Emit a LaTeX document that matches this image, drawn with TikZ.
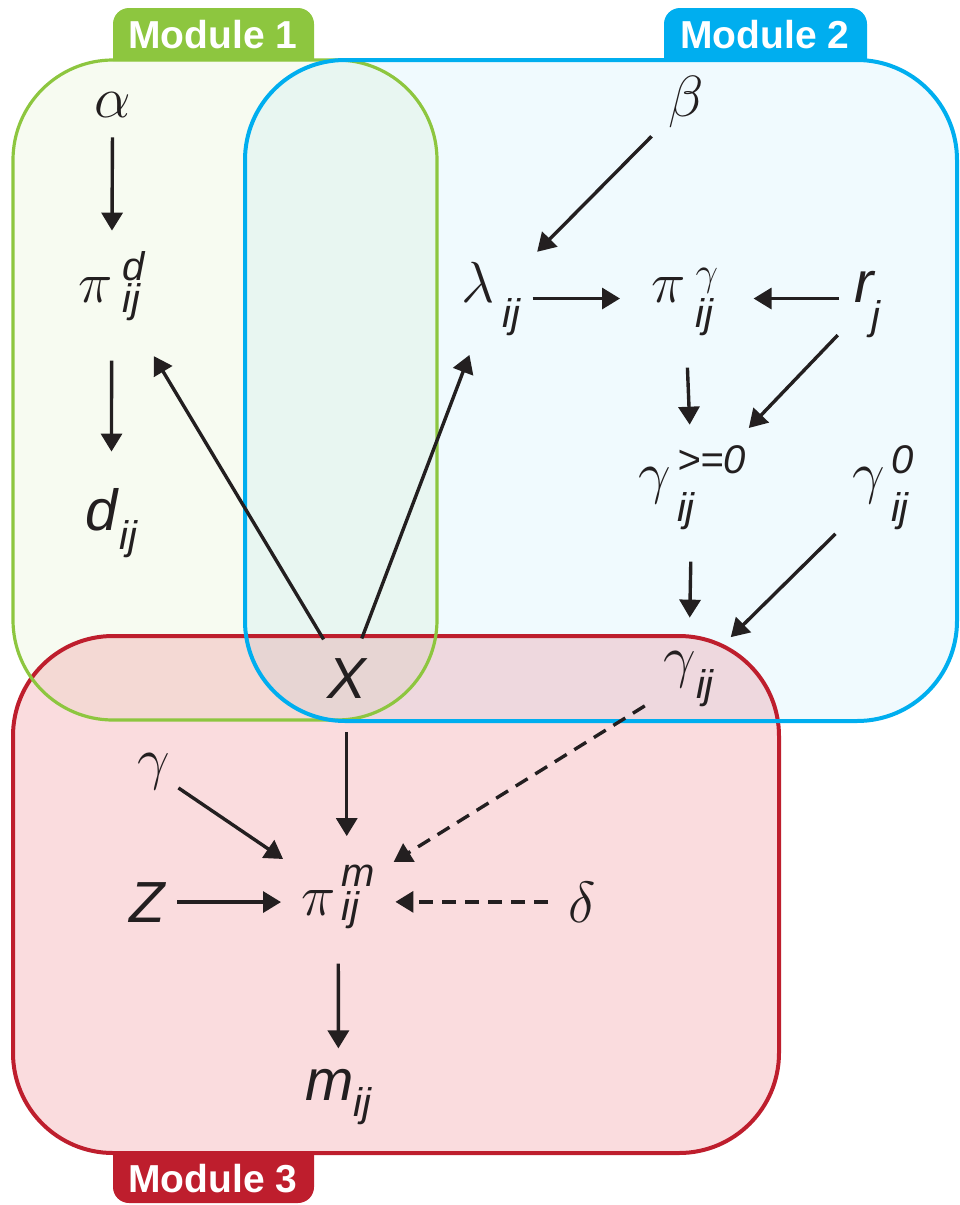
\RequirePackage{fix-cm}
\documentclass[tikz,border=0pt]{standalone}
\usepackage{amsmath}
\usepackage{fontspec}
\usetikzlibrary{arrows.meta}
\newfontfamily\lsans{Liberation Sans}
\newcommand{\vn}[1]{{\lsans\itshape #1}}
% sup/sub pair: #1 raise, #2 sup, #3 drop, #4 sub
\newcommand{\supsub}[4]{\begingroup\fontsize{20}{20}\selectfont\lsans\itshape
  \setbox0\hbox{\raisebox{#1}{#2}}\setbox2\hbox{\raisebox{-#3}{#4}}%
  \ifdim\wd0>\wd2 \rlap{\box2}\box0 \else\rlap{\box0}\box2 \fi\endgroup}
\definecolor{modgreen}{HTML}{8DC63F}
\definecolor{modblue}{HTML}{00AEEF}
\definecolor{modred}{HTML}{BE1E2D}
\definecolor{redtint}{rgb}{0.9,0.32,0.36}
\definecolor{ink}{HTML}{231F20}
\begin{document}
\begin{tikzpicture}[x=0.5pt, y=-0.5pt, >={Triangle[length=9pt,width=10.5pt]},
  var/.style={font=\fontsize{29}{34}\selectfont, text=ink, inner sep=4pt, anchor=base west},
  link/.style={->, line width=1.7pt, draw=ink, shorten <=6pt, shorten >=6pt},
  weak/.style={link, dash pattern=on 7pt off 4.5pt},
  tab/.style={text=white, font=\lsans\bfseries\fontsize{19.5}{23}\selectfont}]
\useasboundingbox (0,0) rectangle (959,1205);
% module frames
\fill[modgreen, fill opacity=0.07, rounded corners=50pt] (13,60) rectangle (437,720);
\fill[modblue, fill opacity=0.06, rounded corners=50pt] (245,60) rectangle (957,721);
\fill[redtint, fill opacity=0.2, rounded corners=50pt] (13,636) rectangle (779,1153);
\draw[modred, line width=2pt, rounded corners=50pt] (13,636) rectangle (779,1153);
\draw[modgreen, line width=1.6pt, rounded corners=50pt] (13,60) rectangle (437,720);
\draw[modblue, line width=2pt, rounded corners=50pt] (245,60) rectangle (957,721);
% tabs
\fill[modgreen] (113,61) -- (113,24) arc[start angle=180, end angle=90, radius=8pt] -- (298,8) arc[start angle=90, end angle=0, radius=8pt] -- (314,61) -- cycle;
\fill[modblue] (664,61) -- (664,24) arc[start angle=180, end angle=90, radius=8pt] -- (851,8) arc[start angle=90, end angle=0, radius=8pt] -- (867,61) -- cycle;
\fill[modred] (113,1152) -- (113,1187) arc[start angle=180, end angle=270, radius=8pt] -- (298,1203) arc[start angle=270, end angle=360, radius=8pt] -- (314,1152) -- cycle;
\node[tab] (m1) at (213,35) {Module 1};
\node[tab] (m2) at (765,35) {Module 2};
\node[tab] (m3) at (213,1179) {Module 3};
% module 1
\node[var] (alpha) at (86,117) {$\alpha$};
\node[var] (pid) at (70,302) {$\pi$\hspace{5pt}\supsub{11pt}{d}{5pt}{ij}};
\node[var] (dij) at (77,530) {\vn{d}\hspace{1pt}\supsub{0pt}{}{9.5pt}{ij}};
% module 2
\node[var] (beta) at (660,116) {$\beta$};
\node[var] (lam) at (453,302) {$\lambda$\hspace{4pt}\supsub{0pt}{}{12.5pt}{ij}};
\node[var] (pig) at (643,302) {$\pi$\hspace{5pt}\supsub{8.5pt}{$\gamma$}{12.5pt}{ij}};
\node[var] (rj) at (846,302) {\vn{r}\hspace{-1pt}\supsub{0pt}{}{13.5pt}{j}};
\node[var] (gpos) at (630,492) {$\gamma$\hspace{3pt}\supsub{9.5pt}{>=0}{14.5pt}{ij}};
\node[var] (gzero) at (844,492) {$\gamma$\hspace{3pt}\supsub{9.5pt}{0}{14.5pt}{ij}};
\node[var] (gij) at (655,676) {$\gamma$\supsub{0pt}{}{11pt}{ij}};
% shared
\node[var] (X) at (319,698) {\vn{X}};
% module 3
\node[var] (gam) at (129,778) {$\gamma$};
\node[var] (Z) at (121,922) {\vn{Z}};
\node[var] (pim) at (293,915) {$\pi$\hspace{3pt}\supsub{14.5pt}{m}{2.5pt}{ij}};
\node[var] (delta) at (560,922) {$\delta$};
\node[var] (mij) at (297,1100) {\vn{m}\supsub{0pt}{}{8pt}{ij}};
% links
\draw[link] (alpha) -- (pid);
\draw[link, shorten <=16pt, shorten >=14pt] (pid) -- (dij);
\draw[link, shorten >=16pt] (X) -- (pid);
\draw[link] (X) -- (lam);
\draw[link] (beta) -- (lam);
\draw[link, shorten <=2pt, shorten >=11.5pt] (lam.east) -- (lam.east -| pig.west);
\draw[link, shorten <=3.5pt, shorten >=13.5pt] (rj.west |- lam.east) -- (pig.east |- lam.east);
\draw[link, shorten <=12pt] (pig) -- (gpos);
\draw[link] (rj) -- (gpos);
\draw[link, shorten <=12pt, shorten >=12.5pt] (gpos) -- (gij);
\draw[link] (gzero) -- (gij);
\draw[weak] (gij) -- (pim);
\draw[link, shorten <=13pt, shorten >=10pt] (X) -- (X |- pim.north);
\draw[link, shorten <=0pt] (gam) -- (pim);
\draw[link, shorten <=2pt] (Z.east) -- (Z.east -| pim.west);
\draw[weak] (delta.west) -- (delta.west -| pim.east);
\draw[link, shorten <=13.5pt] (pim) -- (mij);
\end{tikzpicture}
\end{document}
